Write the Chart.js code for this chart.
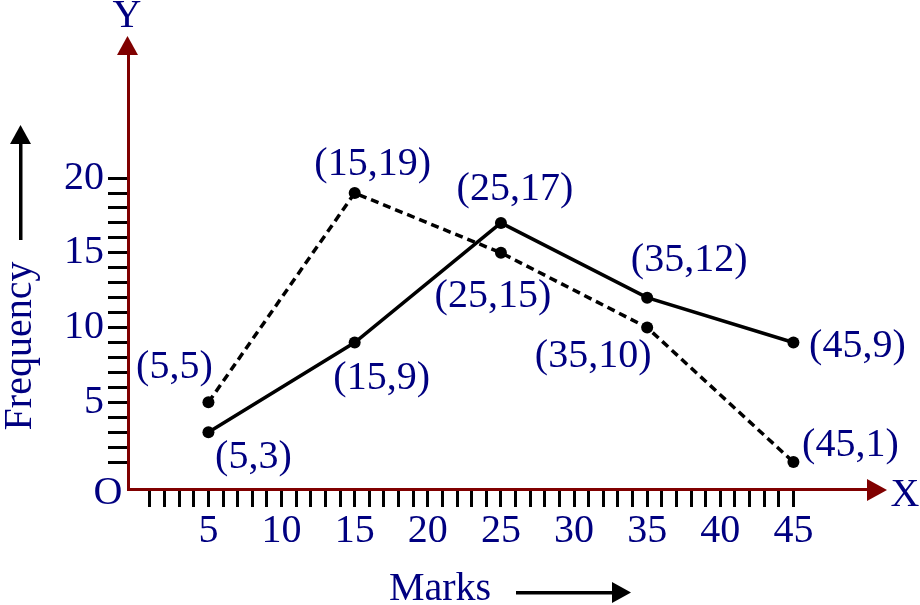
<!DOCTYPE html>
<html>
<head>
<meta charset="utf-8">
<script src="https://cdn.jsdelivr.net/npm/chart.js@4.4.0/dist/chart.umd.min.js"></script>
<style>
	body { margin: 0; background: #fff; }
	canvas { display: block; }
</style>
</head>
<body>
<canvas id="freq-chart" width="920" height="605"></canvas>
<script>
// Data

let marks = [5, 15, 25, 35, 45];
let freqSolid = [3, 9, 17, 12, 9];
let freqDashed = [5, 19, 15, 10, 1];

let xLabelValues = [5, 10, 15, 20, 25, 30, 35, 40, 45];
let yLabelValues = [5, 10, 15, 20];
let xMinorMax = 45;
let yMinorMax = 20;

/* ==============================
Styles
=================================*/

let navy = "#000080";
let maroon = "#800000";
let serif = "'Liberation Serif', 'Times New Roman', serif";
let fontSize = 40;

// where each "(x,y)" label sits relative to its point
let solidLabelShift = [[45, 25], [27, 36], [14, -33], [42, -37], [64, 4]];
let dashedLabelShift = [[-34, -35], [18, -29], [-8, 44], [-54, 29], [57, -17]];

function toPoints(xs, ys) {
	return xs.map((v, i) => ({ x: v, y: ys[i] }));
}

function minorTicks(max) {
	let out = [];
	for (let i = 1; i <= max; i++) out.push({ value: i });
	return out;
}

function triangle(ctx, x1, y1, x2, y2, x3, y3) {
	ctx.beginPath();
	ctx.moveTo(x1, y1);
	ctx.lineTo(x2, y2);
	ctx.lineTo(x3, y3);
	ctx.closePath();
	ctx.fill();
}

const extras = {
	id: "extras",
	afterDraw(chart) {
		const ctx = chart.ctx;
		const a = chart.chartArea;
		const xs = chart.scales.x;
		const ys = chart.scales.y;
		ctx.save();

		// axis arrowheads
		ctx.fillStyle = maroon;
		triangle(ctx, a.right - 1, a.bottom - 10, a.right - 1, a.bottom + 12, a.right + 19, a.bottom + 1);
		triangle(ctx, a.left - 11, a.top + 1, a.left + 10, a.top + 1, a.left - 0.5, a.top - 18);

		// axis letters
		ctx.fillStyle = navy;
		ctx.font = fontSize + "px " + serif;
		ctx.textAlign = "center";
		ctx.textBaseline = "alphabetic";
		ctx.fillText("X", a.right + 37, a.bottom + 17);
		ctx.fillText("Y", a.left - 1, 27);
		ctx.fillText("O", a.left - 20, a.bottom + 15);

		// axis titles with arrows
		ctx.fillText("Marks", 440, 600);
		ctx.fillStyle = "#000";
		ctx.fillRect(516, 591, 98, 3.5);
		triangle(ctx, 612, 582, 612, 603, 631, 592.5);

		ctx.save();
		ctx.translate(31, 346);
		ctx.rotate(-Math.PI / 2);
		ctx.fillStyle = navy;
		ctx.fillText("Frequency", 0, 0);
		ctx.restore();
		ctx.fillStyle = "#000";
		ctx.fillRect(19, 142, 3.5, 98);
		triangle(ctx, 10, 144, 31, 144, 20.5, 125);

		// point labels
		ctx.fillStyle = navy;
		ctx.textBaseline = "middle";
		const sets = [[freqSolid, solidLabelShift], [freqDashed, dashedLabelShift]];
		sets.forEach(([vals, shift]) => {
			vals.forEach((v, i) => {
				const px = xs.getPixelForValue(marks[i]);
				const py = ys.getPixelForValue(v);
				ctx.fillText("(" + marks[i] + "," + v + ")", px + shift[i][0], py + shift[i][1]);
			});
		});
		ctx.restore();
	}
};

// Display chart
let freqChart = new Chart(document.getElementById("freq-chart").getContext("2d"), {
	type: "line",
	data: {
		datasets: [
			{
				label: "solid",
				data: toPoints(marks, freqSolid),
				borderColor: "#000",
				borderWidth: 3.5,
				pointRadius: 6,
				pointBackgroundColor: "#000",
				pointBorderColor: "#000",
				pointBorderWidth: 0,
				tension: 0
			},
			{
				label: "dashed",
				data: toPoints(marks, freqDashed),
				borderColor: "#000",
				borderWidth: 3.5,
				borderDash: [8, 5],
				pointRadius: 6,
				pointBackgroundColor: "#000",
				pointBorderColor: "#000",
				pointBorderWidth: 0,
				tension: 0
			}
		]
	},
	options: {
		responsive: false,
		animation: false,
		layout: { padding: { top: 54, right: 52, left: 0, bottom: 0 } },
		plugins: {
			legend: { display: false },
			tooltip: { enabled: false }
		},
		scales: {
			x: {
				type: "linear",
				min: -0.5,
				max: 50.1,
				afterFit(scale) { scale.height = 605 - 489; },
				afterBuildTicks(scale) { scale.ticks = minorTicks(xMinorMax); },
				border: { display: true, color: maroon, width: 3 },
				grid: {
					drawOnChartArea: false,
					drawTicks: true,
					tickLength: 18,
					tickWidth: 3,
					tickColor: "#000"
				},
				ticks: {
					autoSkip: false,
					maxRotation: 0,
					padding: 0,
					color: navy,
					font: { family: serif, size: fontSize },
					callback: v => (xLabelValues.includes(v) ? String(v) : "")
				}
			},
			y: {
				type: "linear",
				min: -0.8,
				max: 28.3,
				afterFit(scale) { scale.width = 128; },
				afterBuildTicks(scale) { scale.ticks = minorTicks(yMinorMax); },
				border: { display: true, color: maroon, width: 3 },
				grid: {
					drawOnChartArea: false,
					drawTicks: true,
					tickLength: 20,
					tickWidth: 3,
					tickColor: "#000"
				},
				ticks: {
					autoSkip: false,
					padding: 4,
					color: navy,
					font: { family: serif, size: fontSize },
					callback: v => (yLabelValues.includes(v) ? String(v) : "")
				}
			}
		}
	},
	plugins: [extras]
});
</script>
</body>
</html>
